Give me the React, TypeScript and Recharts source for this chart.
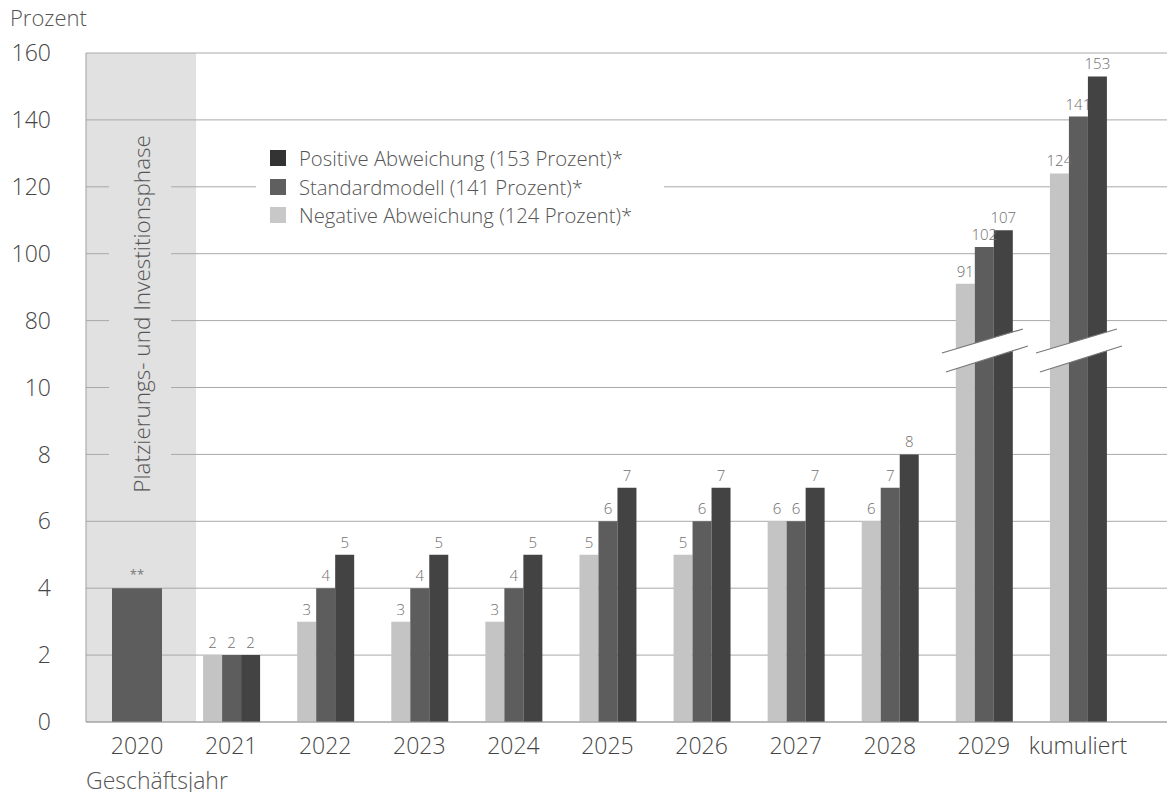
import React from 'react';
import { BarChart, Bar, XAxis, YAxis, CartesianGrid, LabelList, ReferenceArea } from 'recharts';

const CATEGORIES = ['2020', '2021', '2022', '2023', '2024', '2025', '2026', '2027', '2028', '2029', 'kumuliert'];
const NEGATIVE = [null, 2, 3, 3, 3, 5, 5, 6, 6, 91, 124];
const STANDARD = [null, 2, 4, 4, 4, 6, 6, 6, 7, 102, 141];
const POSITIVE = [null, 2, 5, 5, 5, 7, 7, 7, 8, 107, 153];
const START_PHASE = [4, null, null, null, null, null, null, null, null, null, null];
const Y_TICK_VALUES = [0, 2, 4, 6, 8, 10, 80, 100, 120, 140, 160];

const SERIES = [
  { key: 'neg', name: 'Negative Abweichung (124 Prozent)*', values: NEGATIVE, color: '#c4c4c4', legend: '#c8c8c8' },
  { key: 'std', name: 'Standardmodell (141 Prozent)*', values: STANDARD, color: '#5d5d5d', legend: '#5f5f5f' },
  { key: 'pos', name: 'Positive Abweichung (153 Prozent)*', values: POSITIVE, color: '#434343', legend: '#333333' },
];

// broken axis: every tick is one step, values in between are interpolated per segment
function toPlot(v: number | null) {
  if (v == null) return null;
  for (let i = 0; i < Y_TICK_VALUES.length - 1; i++) {
    const a = Y_TICK_VALUES[i];
    const b = Y_TICK_VALUES[i + 1];
    if (v <= b) return i + Math.max(0, (v - a) / (b - a));
  }
  return Y_TICK_VALUES.length - 1;
}

const data = CATEGORIES.map((cat, i) => {
  const row: any = { cat, start: toPlot(START_PHASE[i]), startMark: START_PHASE[i] != null ? '**' : null };
  SERIES.forEach((s) => {
    row[s.key] = toPlot(s.values[i]);
    row[s.key + 'Raw'] = s.values[i];
  });
  return row;
});

const FONT = '"Open Sans", "DejaVu Sans", sans-serif';
const X_PAD = { left: 4, right: 45 };

const LegendBox = () => (
  <div style={{ position: 'absolute', left: 256, top: 142, background: '#fff', padding: '2px 14px', width: 380 }}>
    {[...SERIES].reverse().map((s) => (
      <div key={s.key} style={{ display: 'flex', alignItems: 'center', height: 28.5 }}>
        <span style={{ width: 16, height: 16, background: s.legend, marginRight: 13, display: 'inline-block', flex: 'none' }} />
        <span style={{ fontSize: 20.3, color: '#555', fontWeight: 300, whiteSpace: 'nowrap' }}>{s.name}</span>
      </div>
    ))}
  </div>
);

const PhaseShade = (props: any) => {
  const { x, y, width, height } = props;
  return <rect x={x - 4} y={y} width={width + 16} height={height} fill="#e1e1e1" />;
};

const PhaseText = (props: any) => {
  const { x, y, width, height } = props;
  const cx = x + width / 2 + 4;
  const cy = y + height * 0.39;
  return (
    <g>
      <rect x={cx - 32} y={cy - 190} width={62} height={380} fill="#e1e1e1" />
      <text
        x={cx}
        y={cy}
        transform={`rotate(-90 ${cx} ${cy})`}
        textAnchor="middle"
        dominantBaseline="central"
        fontSize={22.5}
        fontWeight={300}
        fill="#555"
        fontFamily={FONT}
      >
        Platzierungs- und Investitionsphase
      </text>
    </g>
  );
};

const BreakMark = (props: any) => {
  const { x, y, width, height } = props;
  const cx = x + width / 2 + 1;
  const cy = y + height * 0.44;
  const l1 = [cx - 43, cy + 3, cx + 38, cy - 21];
  const l2 = [cx - 39, cy + 22, cx + 43, cy - 4];
  return (
    <g>
      <polygon points={`${l1[0]},${l1[1]} ${l1[2]},${l1[3]} ${l2[2]},${l2[3]} ${l2[0]},${l2[1]}`} fill="#fff" />
      <line x1={l1[0]} y1={l1[1]} x2={l1[2]} y2={l1[3]} stroke="#777" strokeWidth={1.2} />
      <line x1={l2[0]} y1={l2[1]} x2={l2[2]} y2={l2[3]} stroke="#777" strokeWidth={1.2} />
    </g>
  );
};

export default function App() {
  return (
    <div style={{ position: 'relative', width: 1175, height: 800, margin: -8, fontFamily: FONT, background: '#fff' }}>
      <BarChart
        width={1175}
        height={800}
        data={data}
        margin={{ top: 53, right: 5, left: 0, bottom: 38 }}
        barGap={0}
        style={{ position: 'absolute', left: 0, top: 0 }}
      >
        <ReferenceArea x1="2020" x2="2020" y1={0} y2={10} shape={PhaseShade} zIndex={-150} />
        <CartesianGrid vertical={false} stroke="#a9a9a9" strokeWidth={1} />
        <ReferenceArea x1="2020" x2="2020" y1={0} y2={10} shape={PhaseText} zIndex={-60} />
        <XAxis
          dataKey="cat"
          padding={X_PAD}
          height={40}
          tickLine={false}
          tickSize={0}
          tickMargin={16}
          axisLine={{ stroke: '#a0a0a0' }}
          tick={{ fontSize: 23, fill: '#444', fontFamily: FONT, fontWeight: 300 }}
        />
        <XAxis dataKey="cat" xAxisId="solo" hide padding={X_PAD} />
        <YAxis
          type="number"
          domain={[0, 10]}
          ticks={Y_TICK_VALUES.map((_, i) => i)}
          tickFormatter={(i: number) => String(Y_TICK_VALUES[i])}
          width={86}
          tickLine={false}
          tickSize={0}
          tickMargin={35}
          axisLine={{ stroke: '#a0a0a0' }}
          tick={{ fontSize: 23, fill: '#444', fontFamily: FONT, fontWeight: 300 }}
        />
        {SERIES.map((s) => (
          <Bar key={s.key} dataKey={s.key} name={s.name} fill={s.color} barSize={19} isAnimationActive={false}>
            <LabelList dataKey={s.key + 'Raw'} position="top" offset={7} fontSize={15} fill="#6e6e6e" fontFamily={FONT} fontWeight={300} />
          </Bar>
        ))}
        <Bar dataKey="start" xAxisId="solo" fill="#5d5d5d" barSize={50} isAnimationActive={false}>
          <LabelList dataKey="startMark" position="top" offset={9} fontSize={13} fill="#777" fontFamily={FONT} />
        </Bar>
        <ReferenceArea x1="2029" x2="2029" y1={5} y2={6} shape={BreakMark} zIndex={350} />
        <ReferenceArea x1="kumuliert" x2="kumuliert" y1={5} y2={6} shape={BreakMark} zIndex={350} />
      </BarChart>
      <LegendBox />
      <div style={{ position: 'absolute', left: 10, top: 2, fontSize: 22, color: '#555', fontWeight: 300 }}>Prozent</div>
      <div style={{ position: 'absolute', left: 86, top: 764, fontSize: 23, color: '#555', fontWeight: 300 }}>Geschäftsjahr</div>
    </div>
  );
}
